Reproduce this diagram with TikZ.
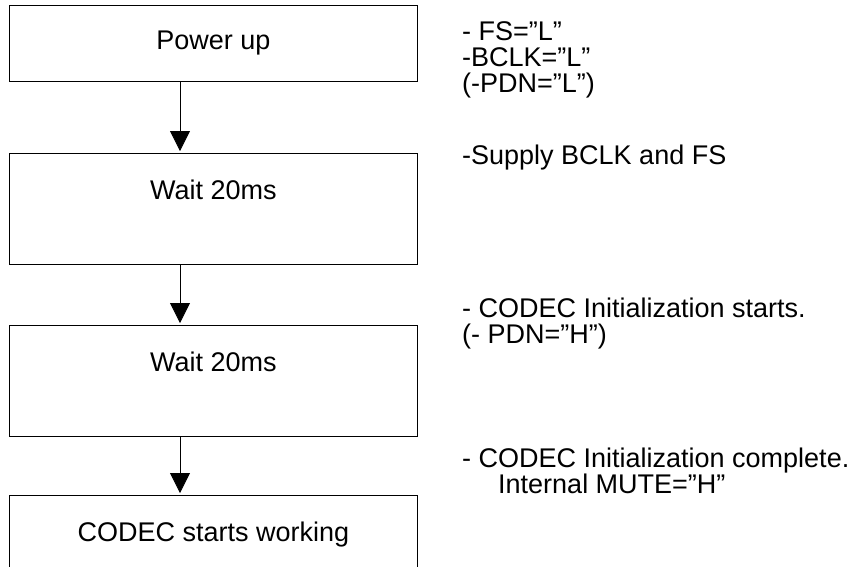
\documentclass[tikz,border=0pt]{standalone}
\usepackage{fontspec}
\setmainfont{Liberation Sans}
\usetikzlibrary{arrows.meta,positioning}

\begin{document}
\begin{tikzpicture}
  [
    x=1pt, y=1pt,
    font=\fontsize{27}{26}\selectfont,
    block/.style =
      {draw, rectangle, line width=1pt, minimum width=408pt, minimum height=76pt, inner sep=3pt},
    tblock/.style =
      {block, minimum height=111pt, text height=43pt, text depth=62pt},
    flow/.style =
      {-{Triangle[length=20pt, width=20pt]}, line width=0.8pt, shorten >=2pt},
    note/.style =
      {anchor=north west, align=left, inner sep=0pt}
  ]

\useasboundingbox (0,0) rectangle (863,-566);
\clip (0,0) rectangle (863,-566);

\node[block, anchor=north] (pwr) at (213.5,-5) {Power up};
\node[tblock, below=71pt of pwr] (wait1) {Wait 20ms};
\node[tblock, below=60pt of wait1] (wait2) {Wait 20ms};
\node[tblock, below=58pt of wait2] (work) {CODEC starts working};

\draw [flow] ([xshift=-33.5pt]pwr.south) -- ([xshift=-33.5pt]wait1.north);
\draw [flow] ([xshift=-33.5pt]wait1.south) -- ([xshift=-33.5pt]wait2.north);
\draw [flow] ([xshift=-33.5pt]wait2.south) -- ([xshift=-33.5pt]work.north);

\node[note] (n1) at (462,-21) {- FS=”L”\\-BCLK=”L”\\(-PDN=”L”)};
\node[note] (n2) at (462,-145) {-Supply BCLK and FS};
\node[note] (n3) at (462,-298) {- CODEC Initialization starts.\\(- PDN=”H”)};
\node[note] (n4) at (462,-448) {- CODEC Initialization complete.\\\hspace*{36pt}Internal MUTE=”H”};
\end{tikzpicture}
\end{document}
